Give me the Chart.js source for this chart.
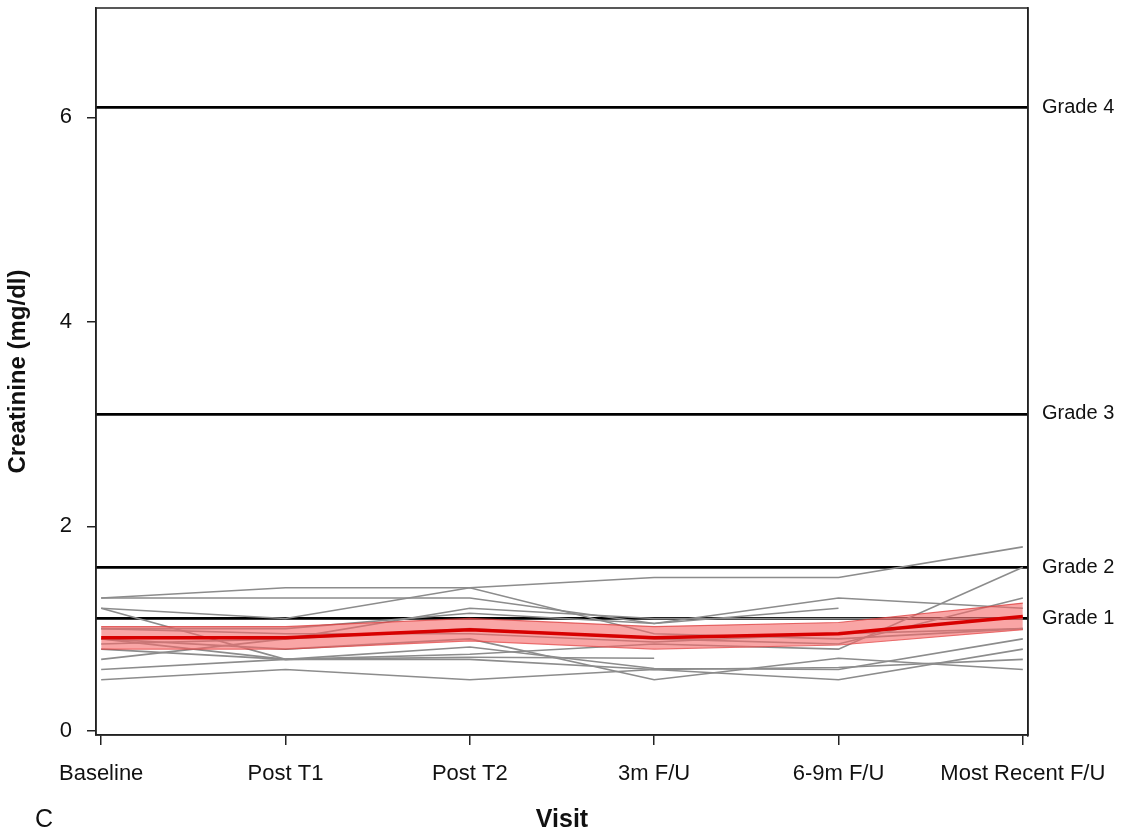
<!DOCTYPE html>
<html>
<head>
<meta charset="utf-8">
<script src="https://cdn.jsdelivr.net/npm/chart.js@4"></script>
<style>
  body { margin: 0; background: #fff; }
  #wrap { position: relative; width: 1121px; height: 833px; }
  #panel { position: absolute; left: 35px; top: 804px; font: 25px "Liberation Sans", Arial, sans-serif; color: #111; }
</style>
</head>
<body>
<div id="wrap">
  <canvas id="chart" width="1121" height="833"></canvas>
  <div id="panel">C</div>
</div>
<script>
// visits on the x axis
let visits = ["Baseline", "Post T1", "Post T2", "3m F/U", "6-9m F/U", "Most Recent F/U"];

// toxicity grade thresholds (mg/dl)
let gradeLabels = ["Grade 4", "Grade 3", "Grade 2", "Grade 1"];
let gradeValues = [6.1, 3.1, 1.6, 1.1];

let yTicks = [0, 2, 4, 6];

// mean creatinine and its band
let meanValues = [0.91, 0.91, 0.99, 0.91, 0.95, 1.12];
let bandUpper = [1.02, 1.02, 1.10, 1.02, 1.06, 1.25];
let bandLower = [0.80, 0.80, 0.88, 0.80, 0.84, 0.99];

// individual patients
let patients = [
    [1.30, 1.40, 1.40, 1.50, 1.50, 1.80],
    [1.20, 1.10, 1.40, 0.95, 0.90, 1.00],
    [1.30, 1.30, 1.30, 1.05, 1.30, 1.20],
    [1.20, 0.70, 0.75, 0.85, 0.80, 1.60],
    [0.70, 0.90, 1.00, 0.90, 0.85, 1.30],
    [0.60, 0.70, 0.70, 0.60, 0.62, 0.70],
    [0.50, 0.60, 0.50, 0.60, 0.50, 0.80],
    [0.90, 0.80, 0.90, 0.50, 0.71, 0.60],
    [0.80, 0.70, 0.72, 0.71, null, null],
    [1.00, 1.00, 1.15, 1.05, 1.20, null],
    [0.85, 0.90, 1.20, 1.10, 1.10, 1.10],
    [0.90, 0.70, 0.82, 0.61, 0.60, 0.90],
    [1.00, 0.95, 0.95, 0.87, 0.95, 1.00]
];

function toPoints(arr) {
    return arr.map((v, i) => ({ x: i, y: v }));
}

let datasets = [];

datasets.push({
    data: toPoints(meanValues),
    borderColor: 'rgba(215,0,0,1)',
    borderWidth: 3.5,
    pointRadius: 0,
    fill: false,
    order: 0
});
datasets.push({
    data: toPoints(bandUpper),
    borderColor: 'rgba(220,60,60,0.75)',
    borderWidth: 1.2,
    backgroundColor: 'rgba(245,105,105,0.6)',
    pointRadius: 0,
    fill: '+1',
    order: 1
});
datasets.push({
    data: toPoints(bandLower),
    borderColor: 'rgba(220,60,60,0.75)',
    borderWidth: 1.2,
    pointRadius: 0,
    fill: false,
    order: 1
});
patients.forEach(p => {
    datasets.push({
        data: toPoints(p),
        borderColor: '#8c8c8c',
        borderWidth: 1.6,
        pointRadius: 0,
        fill: false,
        spanGaps: false,
        order: 2
    });
});

// box round the plot area
let framePlugin = {
    id: 'frame',
    afterDraw(chart) {
        let a = chart.chartArea;
        let ctx = chart.ctx;
        ctx.save();
        ctx.strokeStyle = '#222';
        ctx.lineWidth = 1.5;
        ctx.strokeRect(a.left, a.top, a.right - a.left, a.bottom - a.top);
        ctx.restore();
    }
};

let font = "'Liberation Sans', Arial, sans-serif";

function fitVertical(width) {
    return axis => {
        axis.width = width;
        axis.paddingTop = 0;
        axis.paddingBottom = 0;
    };
}

let ctx = document.getElementById('chart');
let myChart = new Chart(ctx, {
    type: 'line',
    data: { datasets: datasets },
    plugins: [framePlugin],
    options: {
        responsive: false,
        animation: false,
        layout: { autoPadding: false, padding: { top: 8, right: 0, left: 0, bottom: 0 } },
        plugins: {
            legend: { display: false },
            tooltip: { enabled: false }
        },
        scales: {
            x: {
                type: 'linear',
                min: -0.028,
                max: 5.028,
                afterBuildTicks: axis => { axis.ticks = visits.map((v, i) => ({ value: i })); },
                afterFit: axis => { axis.height = 98; axis.paddingLeft = 0; axis.paddingRight = 0; },
                ticks: {
                    callback: v => visits[v],
                    color: '#111',
                    font: { family: font, size: 22 },
                    padding: 16,
                    maxRotation: 0,
                    autoSkip: false
                },
                grid: { drawOnChartArea: false, drawTicks: true, tickLength: 10, color: '#222', lineWidth: 1.5 },
                border: { color: '#222', width: 1.5 },
                title: {
                    display: true,
                    text: 'Visit',
                    color: '#111',
                    font: { family: font, size: 25, weight: 'bold' },
                    padding: { top: 0, bottom: -2 }
                }
            },
            y: {
                min: -0.04,
                max: 7.07,
                afterBuildTicks: axis => { axis.ticks = yTicks.map(v => ({ value: v })); },
                afterFit: fitVertical(96),
                ticks: {
                    color: '#111',
                    font: { family: font, size: 22 },
                    padding: 15
                },
                grid: { drawOnChartArea: false, drawTicks: true, tickLength: 9, color: '#222', lineWidth: 1.5 },
                border: { color: '#222', width: 1.5 },
                title: {
                    display: true,
                    text: 'Creatinine (mg/dl)',
                    color: '#111',
                    font: { family: font, size: 24, weight: 'bold' },
                    padding: { top: 4, bottom: 0 }
                }
            },
            y2: {
                position: 'right',
                min: -0.04,
                max: 7.07,
                afterBuildTicks: axis => { axis.ticks = gradeValues.map(v => ({ value: v })); },
                afterFit: fitVertical(93),
                ticks: {
                    callback: v => gradeLabels[gradeValues.indexOf(v)],
                    color: '#111',
                    font: { family: font, size: 20 },
                    padding: 14
                },
                grid: { drawOnChartArea: true, drawTicks: false, color: '#000', lineWidth: 2.8 },
                border: { color: '#222', width: 1.5 }
            }
        }
    }
});
</script>
</body>
</html>
